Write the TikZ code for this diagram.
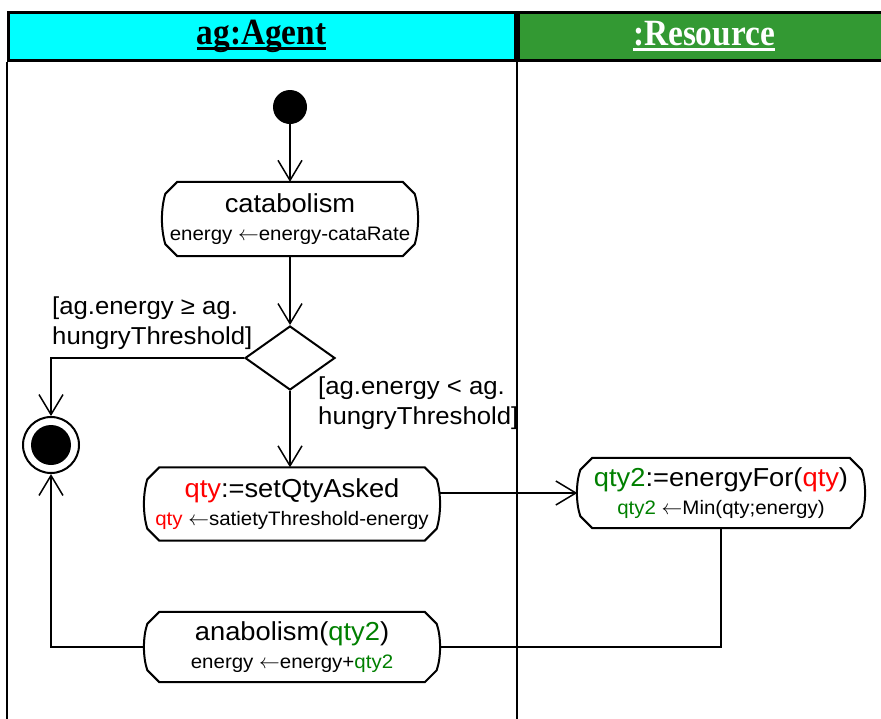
\documentclass[tikz,border=0pt]{standalone}
\usepackage{fontspec}
\setmainfont{Liberation Sans}[FakeStretch=1.05]
\newfontfamily\lanefont{Liberation Serif}[FakeStretch=0.9]
\usetikzlibrary{shapes.geometric, arrows.meta, positioning}
\usepackage{xcolor}
\definecolor{LaneCyan}{HTML}{00FFFF}
\definecolor{LaneGreen}{HTML}{339933}
\definecolor{VarRed}{HTML}{FF0000}
\definecolor{VarGreen}{HTML}{008000}
\newcommand{\mainsz}{\fontsize{26}{28}\selectfont}
\newcommand{\subsz}{\fontsize{19.5}{22}\selectfont}
\newcommand{\vqty}{\textcolor{VarRed}{qty}}
\newcommand{\vqtyii}{\textcolor{VarGreen}{qty2}}
\newcommand{\assignarr}{$\leftarrow$}
\newsavebox{\lanebox}
\newcommand{\laneul}[1]{\sbox{\lanebox}{#1}\rlap{\rule[-6pt]{\wd\lanebox}{3.5pt}}\usebox{\lanebox}}
% outline of an action node: chamfered corners, slightly bulging sides
\newcommand{\actframe}[1]{%
    \draw[frame] ([xshift=15pt]#1.north west) -- ([xshift=-15pt]#1.north east)
        -- ([xshift=-3pt,yshift=-12pt]#1.north east)
        .. controls ([xshift=1.5pt,yshift=10pt]#1.east) and ([xshift=1.5pt,yshift=-10pt]#1.east) ..
        ([xshift=-3pt,yshift=12pt]#1.south east)
        -- ([xshift=-15pt]#1.south east) -- ([xshift=15pt]#1.south west)
        -- ([xshift=3pt,yshift=12pt]#1.south west)
        .. controls ([xshift=-1.5pt,yshift=-10pt]#1.west) and ([xshift=-1.5pt,yshift=10pt]#1.west) ..
        ([xshift=3pt,yshift=-12pt]#1.north west) -- cycle;}
\tikzset{
    % swimlane styles
    lanehead/.style={
        rectangle,
        draw=black,
        line width=3pt,
        minimum height=48pt,
        inner sep=0pt,
        font=\lanefont\bfseries\fontsize{37}{40}\selectfont
    },
    lane/.style={
        line width=2pt,
        draw=black
    },
    % activity styles
    action/.style={
        rectangle,
        inner sep=0pt,
        align=center,
        font=\subsz
    },
    frame/.style={
        draw=black,
        line width=2pt
    },
    decision/.style={
        diamond,
        draw=black,
        line width=2pt,
        minimum width=90pt,
        minimum height=64pt,
        inner sep=0pt
    },
    start/.style={
        circle,
        fill=black,
        minimum size=34pt,
        inner sep=0pt
    },
    stop/.style={
        circle,
        draw=black,
        fill=white,
        line width=2pt,
        minimum size=56pt,
        inner sep=0pt,
        path picture={\fill[black] (path picture bounding box.center) circle (20pt);}
    },
    guard/.style={
        align=left,
        inner sep=0pt,
        font=\fontsize{24.5}{30}\selectfont
    },
    % connector styles
    arrow/.style={
        -{Straight Barb[length=20pt,width=24pt]},
        line width=1.5pt
    },
    flow/.style={
        line width=1.5pt
    }
}
\begin{document}
\begin{tikzpicture}[x=1pt, y=-1pt]
    \useasboundingbox (0,0) rectangle (881,718);
    \fill[white] (0,0) rectangle (881,718);

    % swimlanes
    \node[lanehead, fill=LaneCyan, minimum width=507pt] (agent) at (261.5,36) {\laneul{ag:Agent}};
    \node[lanehead, fill=LaneGreen, text=white, minimum width=372pt, anchor=west] (resource) at (agent.east) {\laneul{:Resource}};
    \draw[lane] (agent.south west) -- ++(0,662);
    \draw[lane] (agent.south east) -- ++(0,662);

    % activities
    \node[start] (init) at (290,107) {};
    \node[action, minimum width=255pt, minimum height=74pt] (cata) at (290,219)
        {{\mainsz catabolism}\\[6pt]energy \assignarr energy-cataRate};
    \node[decision] (choice) at (290,358) {};
    \node[stop] (final) at (51,445) {};
    \node[action, minimum width=295pt, minimum height=73pt] (ask) at (292,504)
        {{\mainsz\vqty:=setQtyAsked}\\[6pt]\vqty{} \assignarr satietyThreshold-energy};
    \node[action, minimum width=287pt, minimum height=70pt] (supply) at (721,493)
        {{\mainsz\vqtyii:=energyFor(\vqty)}\\[6pt]\vqtyii{} \assignarr Min(qty;energy)};
    \node[action, minimum width=295pt, minimum height=70pt] (ana) at (292,647)
        {{\mainsz anabolism(\vqtyii)}\\[6pt]energy \assignarr energy+\vqtyii};
    \actframe{cata}
    \actframe{ask}
    \actframe{supply}
    \actframe{ana}

    % guards
    \node[guard, anchor=north west] (gsated) at (52,297) {[ag.energy ≥ ag.\\hungryThreshold]};
    \node[guard, anchor=north west] (ghungry) at (318,377) {[ag.energy < ag.\\hungryThreshold]};

    % flows
    \draw[arrow] (init) -- (cata);
    \draw[arrow] (cata) -- (choice);
    \draw[arrow] (choice.west) -| (final.north);
    \draw[arrow] (choice.south) -- (choice.south |- ask.north);
    \draw[arrow] (ask.east |- supply.west) -- (supply.west);
    \draw[flow] (supply.south) |- (ana.east);
    \draw[arrow] (ana.west) -| (final.south);
\end{tikzpicture}
\end{document}
